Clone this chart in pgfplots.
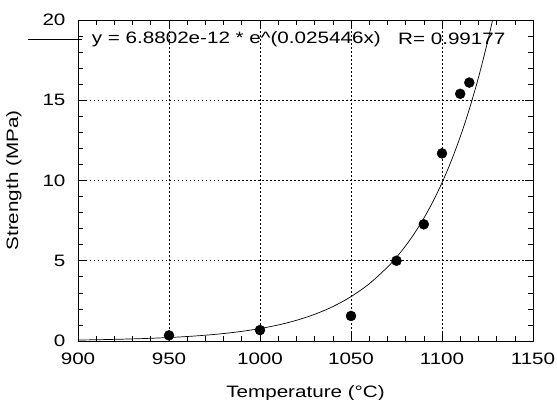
\documentclass[border=0pt]{standalone}
\usepackage{fontspec}
\setmainfont{Liberation Sans}[FakeStretch=1.25]
\usepackage{pgfplots}
\pgfplotsset{compat=1.18}

\begin{document}
\begin{tikzpicture}
\begin{axis}[
  name=ax,
  scale only axis,
  width=455pt, height=321pt,
  xmin=900, xmax=1150,
  ymin=0, ymax=20,
  xtick={900,950,...,1150},
  ytick={0,5,...,20},
  minor x tick num=4,
  minor y tick num=4,
  tick align=inside,
  major tick length=8pt,
  minor tick length=5pt,
  tick style={black, line width=0.6pt},
  axis line style={line width=0.8pt},
  grid=major,
  major grid style={black, line width=0.6pt, dash pattern=on 1.5pt off 2.5pt},
  /pgf/number format/assume math mode=true,
  /pgf/number format/1000 sep={},
  tick label style={font=\fontsize{16.5}{19}\selectfont},
  xticklabel style={yshift=-8pt},
  yticklabel style={xshift=-9pt},
  label style={font=\fontsize{16.5}{19}\selectfont},
  xlabel={Temperature (°C)},
  ylabel={Strength (MPa)},
  xlabel style={yshift=-14pt},
  ylabel style={yshift=14pt},
  clip=false,
]
% fitted curve y = 6.8802e-12 * exp(0.025446x)
\addplot[black, line width=0.7pt, smooth, mark=none] coordinates {
  (900,0.0608)(910,0.0784)(920,0.1011)(930,0.1303)(940,0.1681)
  (950,0.2168)(960,0.2796)(970,0.3607)(980,0.4652)(990,0.6000)
  (1000,0.7739)(1010,0.9981)(1020,1.2874)(1030,1.6604)(1040,2.1416)
  (1050,2.7622)(1060,3.5626)(1070,4.5949)(1075,5.2183)(1080,5.9264)
  (1085,6.7305)(1090,7.6437)(1095,8.6807)(1100,9.8586)(1105,11.196)
  (1110,12.7154)(1115,14.440)(1120,16.3999)(1125,18.625)(1127.8,20.0)
};
% measured points
\addplot[only marks, mark=*, mark size=5pt, black] coordinates {
  (950,0.35)(1000,0.68)(1050,1.56)(1075,5.0)(1090,7.27)
  (1100,11.69)(1110,15.4)(1115,16.1)
};
\draw[black, line width=0.7pt] (axis cs:872.5,18.82) -- (axis cs:902,18.82);
\node[anchor=west, inner sep=0pt, font=\fontsize{16.5}{19}\selectfont]
  at (axis cs:907.5,18.82) {y = 6.8802e-12 * e\textasciicircum(0.025446x)};
\node[anchor=west, inner sep=0pt, font=\fontsize{16.5}{19}\selectfont]
  at (axis cs:1075.8,18.82) {R= 0.99177};
\end{axis}
\pgfresetboundingbox
\path ([shift={(-78pt,-59pt)}]ax.south west) rectangle ([shift={(24pt,20pt)}]ax.north east);
\end{tikzpicture}
\end{document}
